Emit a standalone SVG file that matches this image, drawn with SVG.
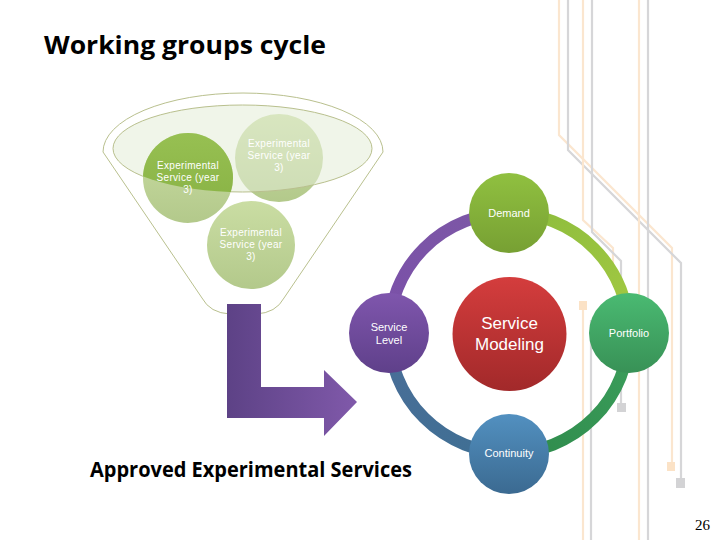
<svg xmlns="http://www.w3.org/2000/svg" width="720" height="540" viewBox="0 0 720 540">
<style>
.deco-o{fill:none;stroke:#fbe6cf;stroke-width:2.2}
.deco-g{fill:none;stroke:#d6d6d8;stroke-width:2.2}
.funnel{fill:none;stroke:#b9c08e;stroke-width:1}
.ctext{font-family:"Liberation Sans","DejaVu Sans",sans-serif;font-size:10px;letter-spacing:0.3px;fill:#ffffff;text-anchor:middle}
.ntext{font-family:"Liberation Sans","DejaVu Sans",sans-serif;font-size:11px;fill:#ffffff;text-anchor:middle}
.mtext{font-family:"Liberation Sans","DejaVu Sans",sans-serif;font-size:17px;fill:#ffffff;text-anchor:middle}
.big{font-family:"Open Sans","Liberation Sans",sans-serif;font-weight:bold;fill:#000000}
.ring{fill:none;stroke-width:12}
</style>
<defs>
<linearGradient id="gPale" x1="0" y1="0" x2="0" y2="1"><stop offset="0" stop-color="#cadda3"/><stop offset="1" stop-color="#b3c98b"/></linearGradient>
<linearGradient id="gDark" x1="0" y1="0" x2="0" y2="1"><stop offset="0" stop-color="#97c052"/><stop offset="1" stop-color="#86b042"/></linearGradient>
<linearGradient id="gArrow" x1="0" y1="0" x2="1" y2="0"><stop offset="0" stop-color="#5d4286"/><stop offset="1" stop-color="#8059aa"/></linearGradient>
<linearGradient id="gDemand" x1="0" y1="0" x2="0" y2="1"><stop offset="0" stop-color="#90c040"/><stop offset="1" stop-color="#77a033"/></linearGradient>
<linearGradient id="gLevel" x1="0" y1="0" x2="0" y2="1"><stop offset="0" stop-color="#7f56ad"/><stop offset="1" stop-color="#5f408a"/></linearGradient>
<linearGradient id="gPort" x1="0" y1="0" x2="0" y2="1"><stop offset="0" stop-color="#4aba72"/><stop offset="1" stop-color="#389156"/></linearGradient>
<linearGradient id="gCont" x1="0" y1="0" x2="0" y2="1"><stop offset="0" stop-color="#5290c0"/><stop offset="1" stop-color="#3b6a91"/></linearGradient>
<linearGradient id="gModel" x1="0" y1="0" x2="0" y2="1"><stop offset="0" stop-color="#d43d3d"/><stop offset="1" stop-color="#a2292a"/></linearGradient>
<linearGradient id="rTL" gradientUnits="userSpaceOnUse" x1="389" y1="333" x2="509" y2="213"><stop offset="0" stop-color="#7a50a8"/><stop offset="1" stop-color="#7d58a6"/></linearGradient>
<linearGradient id="rTR" gradientUnits="userSpaceOnUse" x1="509" y1="213" x2="629" y2="333"><stop offset="0" stop-color="#8cbc3c"/><stop offset="1" stop-color="#a3c943"/></linearGradient>
<linearGradient id="rBR" gradientUnits="userSpaceOnUse" x1="629" y1="333" x2="509" y2="453"><stop offset="0" stop-color="#3c9f5c"/><stop offset="1" stop-color="#2e8a4b"/></linearGradient>
<linearGradient id="rBL" gradientUnits="userSpaceOnUse" x1="509" y1="453" x2="389" y2="333"><stop offset="0" stop-color="#3e6f93"/><stop offset="1" stop-color="#4a6e98"/></linearGradient>
<clipPath id="clipEll"><ellipse cx="242.5" cy="148.5" rx="129.5" ry="43.5"/></clipPath>
</defs>
<rect width="720" height="540" fill="#ffffff"/>

<g id="decoration">
<polyline class="deco-o" points="559,0 559,135 672,248 672,465"/>
<rect x="667" y="462" width="8" height="9" fill="#fbe2c6"/>
<polyline class="deco-g" points="568,0 568,150 681,263 681,480"/>
<rect x="676" y="478" width="9" height="10" fill="#d3d3d5"/>
<polyline class="deco-o" points="583,0 583,220 613,248 613,268"/>
<polyline class="deco-g" points="592,0 592,232 621,261 621,404"/>
<rect x="617" y="403" width="9" height="9" fill="#d3d3d5"/>
<line class="deco-o" x1="639" y1="0" x2="639" y2="540"/>
<line class="deco-g" x1="648" y1="0" x2="648" y2="540"/>
<line class="deco-o" x1="583" y1="305" x2="583" y2="540"/>
<rect x="579" y="301" width="8" height="9" fill="#fbe2c6"/>
<line class="deco-g" x1="591" y1="320" x2="591" y2="540"/>
</g>

<text class="big" x="44" y="54" font-size="25" textLength="282" lengthAdjust="spacingAndGlyphs">Working groups cycle</text>

<g id="funnel">
<path class="funnel" d="M103,152 A140,59 0 0 1 383,152 L284,298 Q276,313 256,314 L230,314 Q210,313 202,298 Z"/>
</g>

<g id="service-b">
<circle cx="279" cy="158" r="44" fill="url(#gPale)"/>
</g>
<ellipse id="funnel-opening" cx="242.5" cy="148.5" rx="129.5" ry="43.5" fill="#e4edd7" fill-opacity="0.55" stroke="#b9c08e" stroke-width="1"/>

<g id="service-a">
<circle cx="188" cy="178" r="45" fill="url(#gPale)"/>
<circle cx="188" cy="178" r="45" fill="url(#gDark)" clip-path="url(#clipEll)"/>
<text class="ctext" x="188" y="169">Experimental</text>
<text class="ctext" x="188" y="181">Service (year</text>
<text class="ctext" x="188" y="193">3)</text>
</g>
<g id="service-b-text">
<text class="ctext" x="279" y="147">Experimental</text>
<text class="ctext" x="279" y="159">Service (year</text>
<text class="ctext" x="279" y="171">3)</text>
</g>
<g id="service-c">
<circle cx="251" cy="245" r="44" fill="url(#gPale)"/>
<text class="ctext" x="251" y="236">Experimental</text>
<text class="ctext" x="251" y="248">Service (year</text>
<text class="ctext" x="251" y="260">3)</text>
</g>

<g id="arrow">
<path d="M227,304 L261,304 L261,387 L324,387 L324,370 L357,402 L324,436 L324,418 L227,418 Z" fill="url(#gArrow)"/>
</g>

<text class="big" x="90" y="477" font-size="21" textLength="322" lengthAdjust="spacingAndGlyphs">Approved Experimental Services</text>

<g id="connectors">
<path class="ring" stroke="url(#rTL)" d="M389,333 A120,120 0 0 1 509,213"/>
<path class="ring" stroke="url(#rTR)" d="M509,213 A120,120 0 0 1 629,333"/>
<path class="ring" stroke="url(#rBR)" d="M629,333 A120,120 0 0 1 509,453"/>
<path class="ring" stroke="url(#rBL)" d="M509,453 A120,120 0 0 1 389,333"/>
</g>

<g id="demand">
<circle cx="509" cy="213" r="40" fill="url(#gDemand)"/>
<text class="ntext" x="509" y="217">Demand</text>
</g>
<g id="service-level">
<circle cx="389" cy="333" r="40" fill="url(#gLevel)"/>
<text class="ntext" x="389" y="331">Service</text>
<text class="ntext" x="389" y="344">Level</text>
</g>
<g id="portfolio">
<circle cx="629" cy="333" r="40" fill="url(#gPort)"/>
<text class="ntext" x="629" y="337">Portfolio</text>
</g>
<g id="continuity">
<circle cx="509" cy="454" r="40" fill="url(#gCont)"/>
<text class="ntext" x="509" y="457">Continuity</text>
</g>
<g id="service-modeling">
<circle cx="509.5" cy="334" r="57" fill="url(#gModel)"/>
<text class="mtext" x="509.5" y="329">Service</text>
<text class="mtext" x="509.5" y="350">Modeling</text>
</g>

<text x="710" y="530" font-family="Liberation Serif,serif" font-size="15" text-anchor="end" fill="#000000">26</text>
</svg>
